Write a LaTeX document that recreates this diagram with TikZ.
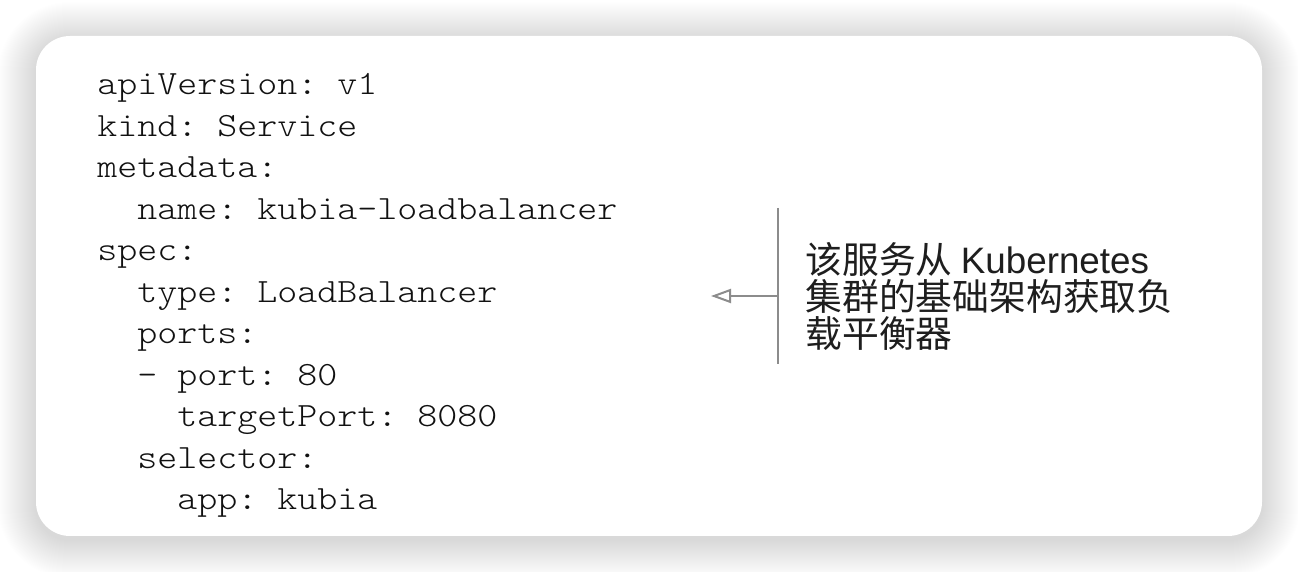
\documentclass[tikz,border=0pt]{standalone}
\usepackage{fontspec}
\setmonofont{lmmonolt10-regular.otf}
\newfontfamily\cjk{Noto Sans CJK SC}
\newfontfamily\latsans{Liberation Sans}
\usetikzlibrary{arrows.meta}
\definecolor{codecol}{HTML}{111111}
\definecolor{notecol}{HTML}{1E1E1E}
\definecolor{linecol}{HTML}{8C8C8C}
\tikzset{
  card/.style={fill=white, rounded corners=17pt},
  shadowlayer/.style={fill=black, fill opacity=0.0026},
  codeline/.style={anchor=base west, inner sep=0pt, text=codecol, xscale=1.12, transform shape,
    font=\ttfamily\fontsize{17}{20}\selectfont},
  noteline/.style={anchor=base west, inner sep=0pt, text=notecol,
    font=\cjk\fontsize{18.4}{20}\selectfont},
  guide/.style={draw=linecol, line width=1pt},
  pointer/.style={draw=linecol, line width=1pt, -{Triangle[open, length=10pt, width=7pt]}}
}
\begin{document}
\begin{tikzpicture}[x=0.5pt, y=-0.5pt]
\useasboundingbox (0,0) rectangle (1298,572);
\fill[white] (0,0) rectangle (1298,572);
\foreach \r in {1,...,38}{
  \pgfmathsetmacro{\rc}{17+\r/2}
  \path[shadowlayer, rounded corners=\rc pt] (36-\r,40-\r) rectangle (1262+\r,540+\r);
}
\path[card] (36,36) rectangle (1262,536);
% code
\node[codeline] (c1) at (97,95) {apiVersion: v1};
\node[codeline] (c2) at (97,136.5) {kind: Service};
\node[codeline] (c3) at (97,178) {metadata:};
\node[codeline] (c4) at (137,219.5) {name: kubia-loadbalancer};
\node[codeline] (c5) at (97,261) {spec:};
\node[codeline] (c6) at (137,302.5) {type: LoadBalancer};
\node[codeline] (c7) at (137,344) {ports:};
\node[codeline] (c8) at (137,385.5) {- port: 80};
\node[codeline] (c9) at (177,427) {targetPort: 8080};
\node[codeline] (c10) at (137,468.5) {selector:};
\node[codeline] (c11) at (177,510) {app: kubia};
% note
\node[noteline] (n1) at (805,274) {该服务从 {\latsans Kubernetes}};
\node[noteline] (n2) at (805,311) {集群的基础架构获取负};
\node[noteline] (n3) at (805,348) {载平衡器};
\coordinate (vtop) at (778,208);
\coordinate (vbot) at (778,364);
\coordinate (vmid) at (778,296);
\coordinate (tip) at (711,296);
\draw[guide] (vtop) -- (vbot);
\draw[pointer] (vmid) -- (tip);
\end{tikzpicture}
\end{document}
